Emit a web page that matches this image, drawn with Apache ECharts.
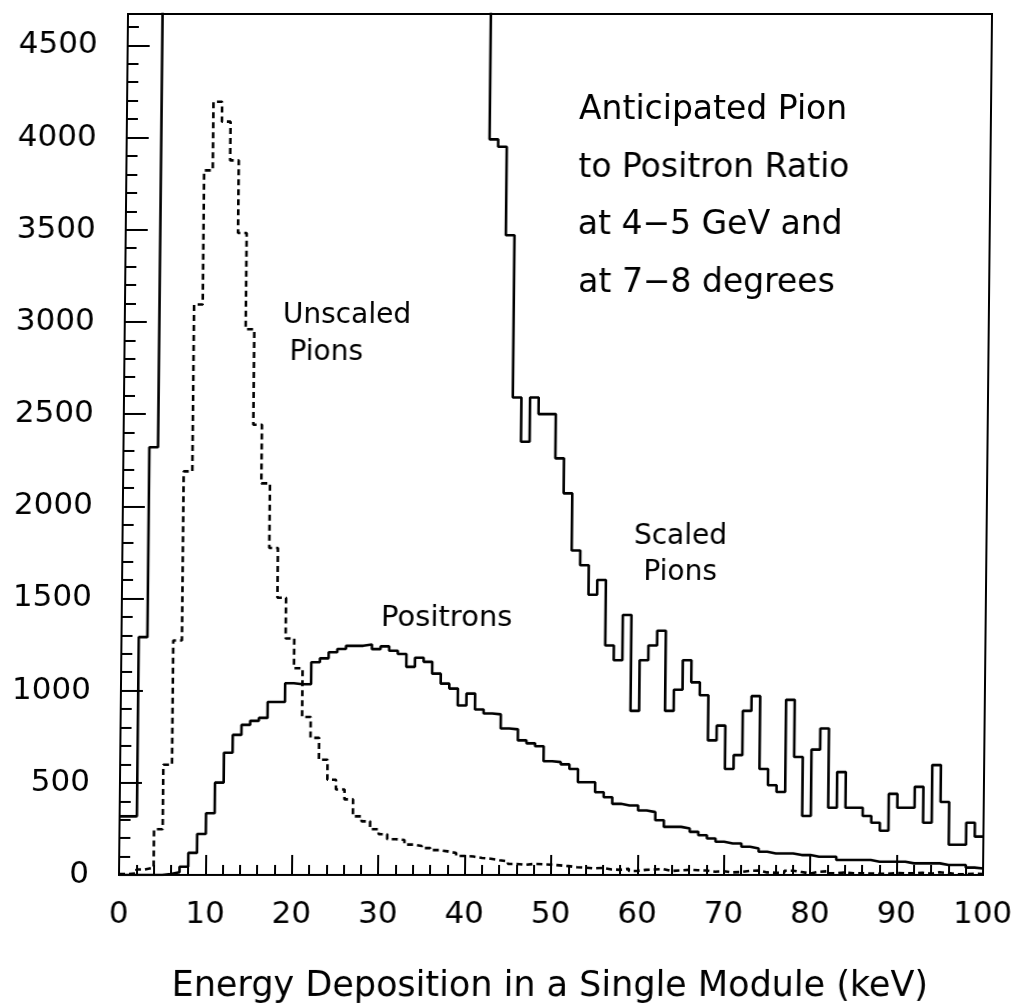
<!DOCTYPE html>
<html><head><meta charset="utf-8">
<script src="https://cdn.jsdelivr.net/npm/echarts@6/dist/echarts.min.js"></script>
<style>html,body{margin:0;padding:0;background:#fff;overflow:hidden}
#c{width:1017px;height:1003px;transform:skewX(-0.6deg);transform-origin:0 875px}</style>
</head><body><div id="c"></div>
<script>
// Bin left edges (keV), 1 keV bins from 0 to 100
const binEdges = [0,1,2,3,4,5,6,7,8,9,10,11,12,13,14,15,16,17,18,19,20,21,22,23,24,25,26,27,28,29,30,31,32,33,34,35,36,37,38,39,40,41,42,43,44,45,46,47,48,49,50,51,52,53,54,55,56,57,58,59,60,61,62,63,64,65,66,67,68,69,70,71,72,73,74,75,76,77,78,79,80,81,82,83,84,85,86,87,88,89,90,91,92,93,94,95,96,97,98,99,100];

// Scaled pions (solid); bins 4-41 run off the top of the plot
const scaledPions = [318,318,1290,2320,9900,24000,51000,88000,124000,153000,
  168000,163000,155000,139000,118000,98000,85000,71000,60000,51000,
  45000,34000,30000,25000,21000,18500,16400,12700,11600,9900,
  8800,7800,7100,6700,6200,5800,5400,5200,5000,4900,
  4850,4800,3990,3950,3470,2590,2350,2590,2500,2500,
  2260,2070,1760,1680,1520,1600,1245,1165,1410,890,
  1165,1245,1325,890,1005,1165,1045,975,730,810,
  575,650,890,970,575,487,450,950,640,320,
  680,795,365,558,365,365,320,283,240,440,
  365,365,478,283,596,396,164,164,283,208];

// Unscaled pions (dashed)
const unscaledPions = [5,8,30,40,248,598,1272,2189,3094,3822,
  4194,4086,3876,3482,2960,2442,2124,1774,1504,1283,
  1121,857,744,625,517,464,410,318,291,248,
  221,194,190,165,157,146,135,128,119,103,
  100,92,88,80,74,60,55,60,58,56,
  52,48,42,40,36,38,30,28,34,22,
  28,30,32,22,25,28,26,24,18,20,
  14,16,22,24,14,12,11,23,16,8,
  17,20,9,14,9,9,8,7,6,11,
  9,9,12,7,15,10,4,4,7,5];

// Positrons (solid)
const positrons = [0,0,0,0,0,5,15,45,120,222,
  335,501,663,760,814,836,852,938,938,1040,
  1035,1035,1154,1175,1208,1226,1243,1243,1250,1225,
  1240,1216,1199,1129,1178,1156,1092,1038,1011,919,
  984,898,876,871,795,790,730,714,698,617,
  612,600,575,503,503,449,422,386,377,377,
  350,341,297,261,261,252,234,216,198,180,
  171,171,153,144,126,117,117,117,108,108,
  99,99,99,81,81,81,81,72,72,72,
  72,63,63,63,63,54,54,54,40,35];

const xTickLabels = [0,10,20,30,40,50,60,70,80,90,100];
const yTickLabels = [0,500,1000,1500,2000,2500,3000,3500,4000,4500];
const yTop = 4670;

function hist(vals){
  const d = [];
  for (let i = 0; i < vals.length; i++) d.push([binEdges[i], vals[i]]);
  d.push([binEdges[vals.length], vals[vals.length-1]]);
  return d;
}

const FONT = '"DejaVu Sans", sans-serif';
const chart = echarts.init(document.getElementById('c'), null, {renderer:'canvas'});
const lbl = {color:'#000', fontFamily:FONT, fontSize:31};
const LW = 2.6;
function txt(x, y, s, size, align){
  return {type:'text', x:x, y:y, style:{text:s, font:size+'px '+FONT, fill:'#000', textAlign:align||'left', textVerticalAlign:'middle'}};
}
chart.setOption({
  animation:false,
  backgroundColor:'#fff',
  grid:{left:119, right:34, top:14, bottom:128, containLabel:false, outerBoundsMode:'none',
        show:true, borderColor:'#000', borderWidth:2, backgroundColor:'transparent'},
  xAxis:{
    type:'value', min:0, max:100, interval:10,
    axisLine:{show:true, lineStyle:{color:'#000', width:2}},
    axisTick:{show:true, inside:true, length:20, lineStyle:{color:'#000', width:2}},
    minorTick:{show:true, splitNumber:5, length:10, lineStyle:{color:'#000', width:2}},
    splitLine:{show:false}, minorSplitLine:{show:false},
    axisLabel:Object.assign({margin:24, formatter:v => xTickLabels.includes(v) ? String(v) : ''}, lbl),
    name:'Energy Deposition in a Single Module (keV)', nameLocation:'middle', nameGap:94,
    nameTextStyle:{color:'#000', fontFamily:FONT, fontSize:35}
  },
  yAxis:[{
    type:'value', min:0, max:yTop, interval:500,
    axisLine:{show:true, lineStyle:{color:'#000', width:2}},
    axisTick:{show:true, inside:true, length:22, lineStyle:{color:'#000', width:2}},
    splitLine:{show:false},
    axisLabel:Object.assign({margin:30, showMaxLabel:false, formatter:v => yTickLabels.includes(v) ? String(v) : ''}, lbl)
  },{
    type:'value', min:0, max:yTop, interval:100, position:'left',
    axisLine:{show:false},
    axisTick:{show:true, inside:true, length:11, lineStyle:{color:'#000', width:2}},
    splitLine:{show:false},
    axisLabel:{show:false}
  }],
  series:[
    {type:'line', step:'end', symbol:'none', data:hist(unscaledPions), yAxisIndex:0,
     lineStyle:{color:'#000', width:LW, type:[6,4]}, clip:true},
    {type:'line', step:'end', symbol:'none', data:hist(positrons), yAxisIndex:0,
     lineStyle:{color:'#000', width:LW}, clip:true},
    {type:'line', step:'end', symbol:'none', data:hist(scaledPions), yAxisIndex:0,
     lineStyle:{color:'#000', width:LW}, clip:true}
  ],
  graphic:[
    txt(571, 110, 'Anticipated Pion', 33),
    txt(571, 168, 'to Positron Ratio', 33),
    txt(571, 225, 'at 4\u22125 GeV and', 33),
    txt(572, 283, 'at 7\u22128 degrees', 33),
    txt(277, 316, 'Unscaled', 28),
    txt(284, 353, 'Pions', 28),
    txt(677, 537, 'Scaled', 28, 'center'),
    txt(677, 573, 'Pions', 28, 'center'),
    txt(444, 618, 'Positrons', 29, 'center')
  ]
});
</script></body></html>
